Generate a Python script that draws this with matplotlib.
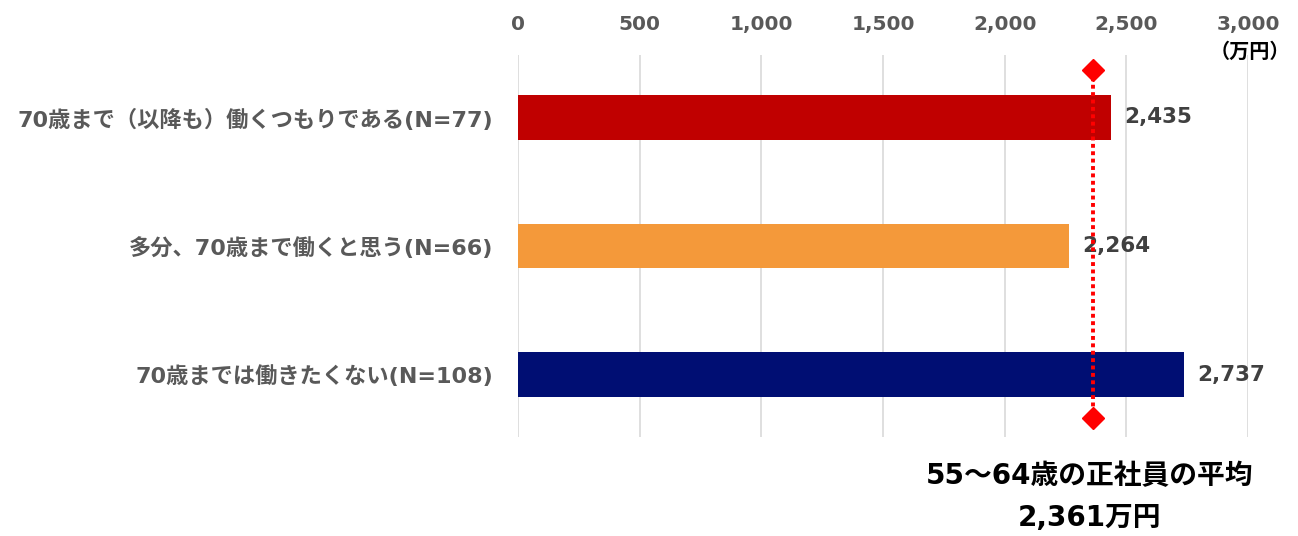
import matplotlib.pyplot as plt

# Latin digits in DejaVu (wide), Japanese falls back to Noto CJK
plt.rcParams['font.family'] = ['DejaVu Sans', 'Noto Sans CJK JP']

# 70歳まで働く意向別の金融資産額（万円）
categories = [
    '70歳まで（以降も）働くつもりである(N=77)',
    '多分、70歳まで働くと思う(N=66)',
    '70歳までは働きたくない(N=108)',
]
values = [2435, 2264, 2737]
bar_colors = ['#C00000', '#F4993A', '#000E73']
avg_value = 2361
avg_label = '55～64歳の正社員の平均\n2,361万円'
x_ticks = [0, 500, 1000, 1500, 2000, 2500, 3000]

fig = plt.figure(figsize=(12.98, 5.36), dpi=100)
ax = fig.add_axes([518 / 1298, 1 - 437 / 536, 730 / 1298, 382 / 536])

y = list(range(len(categories)))
ax.barh(y, values, height=0.35, color=bar_colors, zorder=2)

for yi, v in zip(y, values):
    ax.text(v + 55, yi, f'{v:,}', va='center', ha='left', fontsize=15.5,
            fontweight='bold', color='#404040')

# 平均線（点線＋両端のひし形）
ax.plot([avg_value, avg_value], [-0.37, 2.34], color='#FF0000', lw=2.8,
        ls=(0, (1, 0.9)), zorder=3)
ax.plot([avg_value, avg_value], [-0.37, 2.34], ls='none', marker='D',
        markersize=11.5, color='#FF0000', zorder=4)

ax.set_xlim(0, 3000)
ax.set_ylim(2.486, -0.486)
ax.set_xticks(x_ticks)
ax.set_xticklabels([f'{t:,}' for t in x_ticks], fontsize=14.5,
                   fontweight='bold', color='#595959')
ax.xaxis.tick_top()
ax.tick_params(axis='x', length=0, pad=15)
ax.set_yticks(y)
ax.set_yticklabels(categories, fontsize=16, fontweight='bold', color='#595959')
ax.tick_params(axis='y', length=0, pad=18)
ax.grid(axis='x', color='#D9D9D9', lw=1.2, zorder=0)
for s in ax.spines.values():
    s.set_visible(False)

fig.text(1250 / 1298, 1 - 52 / 536, '（万円）', ha='center', va='center',
         fontsize=14.5, fontweight='bold', color='black')
fig.text(1090 / 1298, 1 - 497 / 536, avg_label, ha='center', va='center',
         fontsize=20, fontweight='bold', color='black', linespacing=1.65)

fig.savefig('out.png', dpi=100)
